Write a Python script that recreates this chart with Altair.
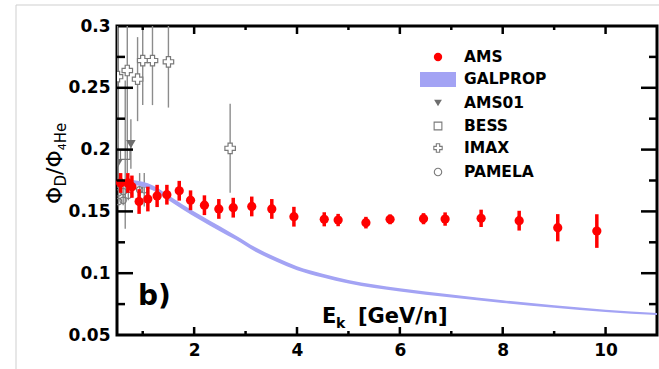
import altair as alt
import pandas as pd

# ---------------- data ----------------
ams_x = [0.57, 0.71, 0.79, 0.93, 1.10, 1.28, 1.47, 1.71, 1.93, 2.20, 2.48, 2.76, 3.12,
         3.51, 3.94, 4.53, 4.80, 5.34, 5.81, 6.46, 6.88, 7.58, 8.32, 9.07, 9.83]
ams_y = [0.173, 0.173, 0.170, 0.158, 0.160, 0.1625, 0.1635, 0.1667, 0.159, 0.155, 0.152,
         0.153, 0.154, 0.152, 0.1457, 0.1436, 0.143, 0.1409, 0.1436, 0.1441, 0.1438,
         0.1444, 0.1425, 0.1368, 0.1341]
ams_err = [0.008, 0.008, 0.009, 0.010, 0.010, 0.009, 0.008, 0.008, 0.008, 0.008, 0.008,
           0.008, 0.008, 0.008, 0.008, 0.0057, 0.005, 0.0047, 0.004, 0.0045, 0.0054,
           0.007, 0.008, 0.011, 0.0136]

gal_x = [0.8, 1.0, 1.2, 1.5, 1.8, 2.1, 2.5, 2.8, 3.2, 3.6, 4.0, 4.5, 5.0, 6.0, 7.0,
         8.0, 9.0, 10.0, 11.0]
gal_lo = [0.1715, 0.170, 0.167, 0.159, 0.151, 0.1435, 0.134, 0.1272, 0.1172, 0.1093,
          0.1024, 0.0965, 0.0916, 0.0852, 0.0803, 0.0759, 0.0720, 0.0686, 0.0661]
gal_hi = [0.1755, 0.174, 0.171, 0.163, 0.155, 0.1475, 0.138, 0.1308, 0.1208, 0.1127,
          0.1056, 0.0995, 0.0944, 0.0878, 0.0827, 0.0781, 0.0740, 0.0704, 0.0679]

ams01_x = [0.52, 0.77]
ams01_y = [0.189, 0.2045]
ams01_err = [0.02, 0.02]

bess_x = [0.66]
bess_y = [0.196]
bess_err = [0.06]

imax_x = [0.51, 0.70, 0.90, 1.00, 1.19, 1.50, 2.70]
imax_y = [0.259, 0.264, 0.257, 0.272, 0.272, 0.271, 0.201]
imax_err = [0.06, 0.083, 0.034, 0.036, 0.036, 0.037, 0.036]

pamela_x = [0.53, 0.53, 0.62, 0.62, 0.72, 0.94, 1.03]
pamela_y = [0.165, 0.158, 0.166, 0.159, 0.163, 0.1675, 0.1675]
pamela_err = [0.004, 0.004, 0.004, 0.004, 0.004, 0.0135, 0.0135]

x_major = [2, 4, 6, 8, 10]
x_minor = [1, 3, 5, 7, 9]
y_major = [0.1, 0.15, 0.2, 0.25]
y_minor = [0.075, 0.125, 0.175, 0.225, 0.275]
y_labels = [0.05, 0.1, 0.15, 0.2, 0.25, 0.3]

legend_names = ["AMS", "GALPROP", "AMS01", "BESS", "IMAX", "PAMELA"]

# ---------------- layout ----------------
W, H = 540, 309
FONT = "DejaVu Sans"
RED = "#ff0000"
GRAY = "#7a7a7a"
BAND = "#a3a3f4"

xscale = alt.Scale(domain=[0.5, 11], nice=False, zero=False)
yscale = alt.Scale(domain=[0.05, 0.3], nice=False, zero=False)
xaxis = alt.Axis(values=x_major, format="d", ticks=False, domain=False, grid=False,
                 labelFont=FONT, labelFontWeight="bold", labelFontSize=17,
                 labelColor="black", labelPadding=7, title=None)
yaxis = alt.Axis(values=y_labels, format="~g", ticks=False, domain=False, grid=False,
                 labelFont=FONT, labelFontWeight="bold", labelFontSize=17,
                 labelColor="black", labelPadding=7, title=None)


def X(f):
    return alt.X(f, type="quantitative", scale=xscale, axis=xaxis)


def Y(f):
    return alt.Y(f, type="quantitative", scale=yscale, axis=yaxis)


def errdf(xs, ys, es):
    return pd.DataFrame({"x": xs, "y": ys,
                         "lo": [a - b for a, b in zip(ys, es)],
                         "hi": [a + b for a, b in zip(ys, es)]})


ams = errdf(ams_x, ams_y, ams_err)
ams01 = errdf(ams01_x, ams01_y, ams01_err)
bess = errdf(bess_x, bess_y, bess_err)
imax = errdf(imax_x, imax_y, imax_err)
pamela = errdf(pamela_x, pamela_y, pamela_err)
gal = pd.DataFrame({"x": gal_x, "lo": gal_lo, "hi": gal_hi})

layers = []

# gray error bars of other experiments
for df in [imax, bess, ams01, pamela]:
    layers.append(alt.Chart(df).mark_rule(color="#8c8c8c", strokeWidth=1.4, clip=True)
                  .encode(x=X("x"), y=Y("lo"), y2="hi"))

layers.append(alt.Chart(pamela).mark_point(shape="circle", filled=False, color=GRAY,
                                           strokeWidth=1.1, size=40, opacity=1, clip=True)
              .encode(x=X("x"), y=Y("y")))
layers.append(alt.Chart(bess).mark_point(shape="square", filled=False, color=GRAY,
                                         strokeWidth=1.2, size=90, opacity=1, clip=True)
              .encode(x=X("x"), y=Y("y")))
layers.append(alt.Chart(imax).mark_point(shape="cross", filled=True, fill="white",
                                         stroke=GRAY, strokeWidth=1.2, size=110, opacity=1,
                                         clip=True)
              .encode(x=X("x"), y=Y("y")))
layers.append(alt.Chart(ams01).mark_point(shape="triangle-down", filled=True, color="#6e6e6e",
                                          size=90, opacity=1, clip=True)
              .encode(x=X("x"), y=Y("y")))

# GALPROP band
layers.append(alt.Chart(gal).mark_area(color=BAND, opacity=1, interpolate="monotone")
              .encode(x=X("x"), y=Y("lo"), y2="hi"))

# AMS
layers.append(alt.Chart(ams).mark_rule(color=RED, strokeWidth=3.5)
              .encode(x=X("x"), y=Y("lo"), y2="hi"))
layers.append(alt.Chart(ams).mark_circle(color=RED, size=85, opacity=1)
              .encode(x=X("x"), y=Y("y")))

# inward tick marks on all four sides
def xticks(vals, length):
    df = pd.DataFrame({"v": vals})
    base = alt.Chart(df).mark_rule(color="black", strokeWidth=2.5)
    return [base.encode(x=X("v"), y=alt.value(H), y2=alt.value(H - length)),
            base.encode(x=X("v"), y=alt.value(0), y2=alt.value(length))]


def yticks(vals, length):
    df = pd.DataFrame({"v": vals})
    base = alt.Chart(df).mark_rule(color="black", strokeWidth=2.5)
    return [base.encode(y=Y("v"), x=alt.value(0), x2=alt.value(length)),
            base.encode(y=Y("v"), x=alt.value(W), x2=alt.value(W - length))]


layers += xticks(x_major, 8) + xticks(x_minor, 4) + yticks(y_major, 16) + yticks(y_minor, 8)

# light gray outer frame (top and left)
one = pd.DataFrame({"a": [0]})
layers.append(alt.Chart(one).mark_rule(color="#cfcfcf", strokeWidth=1)
              .encode(x=alt.value(-101), x2=alt.value(W + 2), y=alt.value(-21)))
layers.append(alt.Chart(one).mark_rule(color="#cfcfcf", strokeWidth=1)
              .encode(x=alt.value(-101), y=alt.value(-21), y2=alt.value(H + 34)))

# manual legend
LX_MARK, LX_TEXT = 321, 347
rows_y = [31, 53, 77, 100, 122, 146]
for name, ry in zip(legend_names, rows_y):
    d = pd.DataFrame({"label": [name]})
    layers.append(alt.Chart(d).mark_text(font=FONT, fontWeight="bold", fontSize=15.5,
                                         align="left", baseline="middle", color="black")
                  .encode(x=alt.value(LX_TEXT), y=alt.value(ry), text="label:N"))
    if name == "AMS":
        m = alt.Chart(d).mark_circle(color=RED, size=70, opacity=1)
    elif name == "GALPROP":
        m = alt.Chart(d).mark_rect(color=BAND)
        layers.append(m.encode(x=alt.value(LX_MARK - 18), x2=alt.value(LX_MARK + 18),
                               y=alt.value(ry - 7), y2=alt.value(ry + 8)))
        continue
    elif name == "AMS01":
        m = alt.Chart(d).mark_point(shape="triangle-down", filled=True, color="#6e6e6e",
                                    size=60, opacity=1)
    elif name == "BESS":
        m = alt.Chart(d).mark_point(shape="square", filled=False, color=GRAY,
                                    strokeWidth=1.1, size=60, opacity=1)
    elif name == "IMAX":
        m = alt.Chart(d).mark_point(shape="cross", filled=True, fill="white", stroke=GRAY,
                                    strokeWidth=1.1, size=70, opacity=1)
    else:
        m = alt.Chart(d).mark_point(shape="circle", filled=False, color=GRAY,
                                    strokeWidth=1.1, size=55, opacity=1)
    layers.append(m.encode(x=alt.value(LX_MARK), y=alt.value(ry)))

# in-plot texts: "b)" and x-axis title E_k [GeV/n]
def txt(s, x, y, size, weight="bold", angle=0):
    d = pd.DataFrame({"t": [s]})
    kw = dict(font=FONT, fontWeight=weight, fontSize=size, align="left",
              baseline="alphabetic", color="black")
    if angle:
        kw["angle"] = angle
    return alt.Chart(d).mark_text(**kw).encode(x=alt.value(x), y=alt.value(y), text="t:N")


layers.append(txt("b)", 21, 279, 28))
layers.append(txt("E", 205, 297, 21))
layers.append(txt("k", 219, 302, 14))
layers.append(txt("[GeV/n]", 241, 297, 21))

# rotated y-axis title: Φ_D / Φ_4He
pieces = [("Φ", 22, 0, 0.79), ("D", 15, 4, 0.77), ("/", 22, 0, 0.34),
          ("Φ", 22, 0, 0.79), ("4", 11, 4, 0.64), ("He", 15, 4, 1.37)]
pos = 178
for s, size, shift, adv in pieces:
    layers.append(txt(s, -55 + shift, pos, size, weight="normal", angle=270))
    pos -= adv * size

chart = alt.layer(*layers).properties(
    width=W, height=H,
    padding={"left": 117, "top": 26, "right": 2, "bottom": 34},
    autosize=alt.AutoSizeParams(type="none"),
    background="white",
).configure_view(stroke="black", strokeWidth=3)

chart.save("out.html", embed_options={"renderer": "svg", "actions": False})
